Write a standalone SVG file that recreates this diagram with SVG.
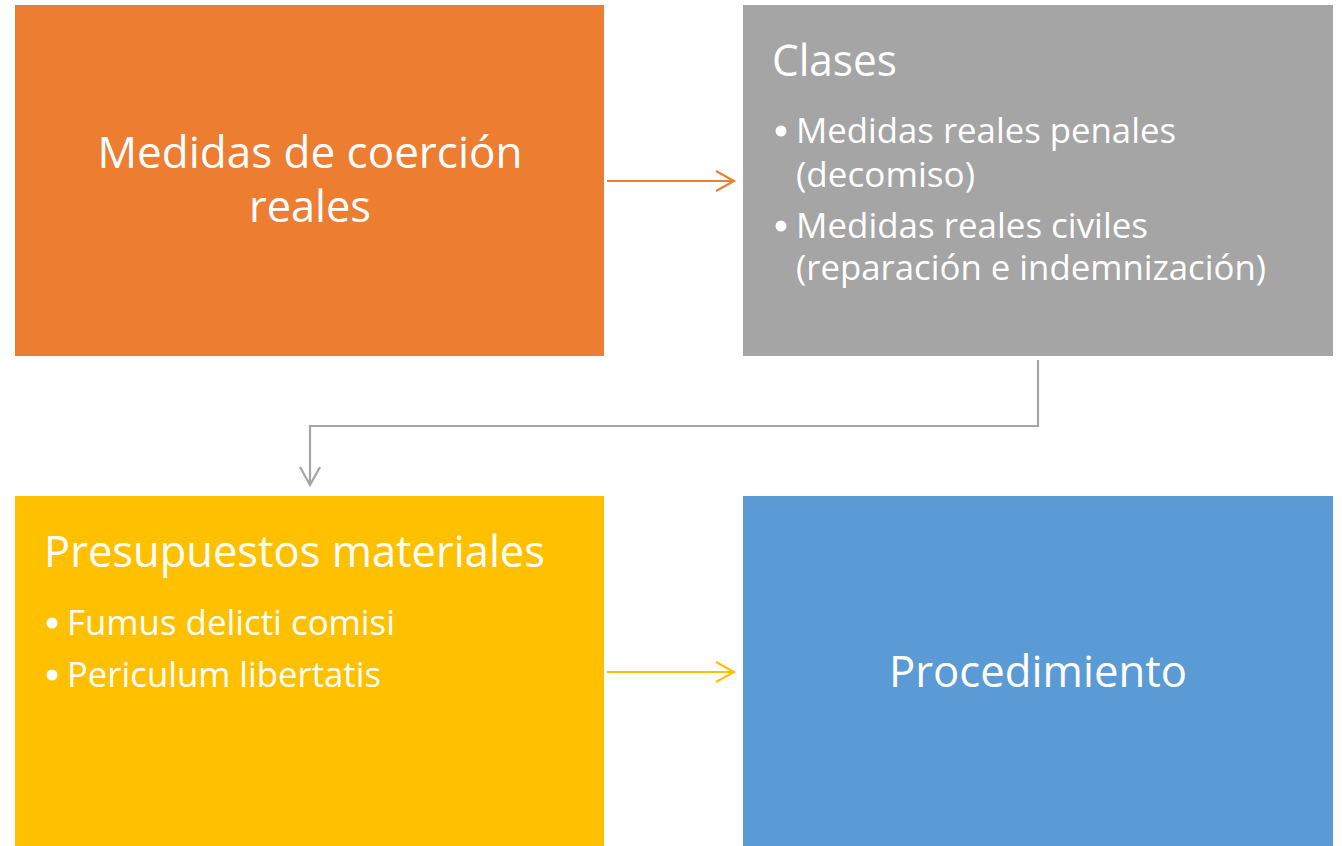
<svg xmlns="http://www.w3.org/2000/svg" width="1342" height="846" viewBox="0 0 1342 846">
<style>
text{font-family:"Open Sans","Noto Sans","Liberation Sans",sans-serif;fill:#fff}
.t{font-size:43px}
.s{font-size:34px}
.c{stroke-width:2.2;fill:none}
</style>
<rect width="1342" height="846" fill="#fff"/>
<g id="n1"><rect x="15" y="5" width="589" height="351" fill="#ED7D31"/>
<text class="t" x="310" y="168" text-anchor="middle" textLength="425" lengthAdjust="spacingAndGlyphs">Medidas de coerción</text>
<text class="t" x="310" y="222" text-anchor="middle" textLength="122" lengthAdjust="spacingAndGlyphs">reales</text></g>
<g id="n2"><rect x="743" y="5" width="590" height="351" fill="#A5A5A5"/>
<text class="t" x="772" y="76" textLength="125" lengthAdjust="spacingAndGlyphs">Clases</text>
<circle cx="781" cy="131" r="5.5" fill="#fff"/>
<text class="s" x="796" y="143" textLength="380" lengthAdjust="spacingAndGlyphs">Medidas reales penales</text>
<text class="s" x="796" y="187" textLength="179" lengthAdjust="spacingAndGlyphs">(decomiso)</text>
<circle cx="781" cy="226" r="5.5" fill="#fff"/>
<text class="s" x="796" y="238" textLength="352" lengthAdjust="spacingAndGlyphs">Medidas reales civiles</text>
<text class="s" x="796" y="280" textLength="470" lengthAdjust="spacingAndGlyphs">(reparación e indemnización)</text></g>
<g id="n3"><rect x="15" y="496" width="589" height="350" fill="#FFC000"/>
<text class="t" x="44" y="567" textLength="501" lengthAdjust="spacingAndGlyphs">Presupuestos materiales</text>
<circle cx="52" cy="623" r="5.5" fill="#fff"/>
<text class="s" x="67" y="635" textLength="328" lengthAdjust="spacingAndGlyphs">Fumus delicti comisi</text>
<circle cx="52" cy="675" r="5.5" fill="#fff"/>
<text class="s" x="67" y="687" textLength="314" lengthAdjust="spacingAndGlyphs">Periculum libertatis</text></g>
<g id="n4"><rect x="743" y="496" width="590" height="350" fill="#5B9BD5"/>
<text class="t" x="1038" y="687" text-anchor="middle" textLength="298" lengthAdjust="spacingAndGlyphs">Procedimiento</text></g>
<g id="connectors">
<path class="c" stroke="#ED7D31" d="M607 181H734M716 171L734 181L716 191"/>
<path class="c" stroke="#A5A5A5" d="M1038 360V426H310V485M300 467L310 485L320 467"/>
<path class="c" stroke="#FFC000" d="M607 672H734M716 662L734 672L716 682"/>
</g>
</svg>
